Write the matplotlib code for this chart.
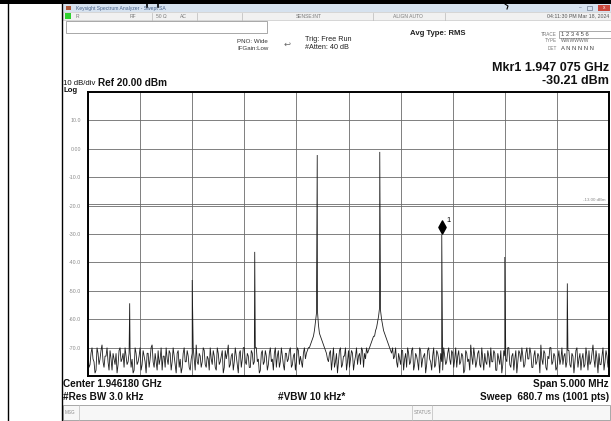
import numpy as np
import matplotlib
matplotlib.use("Agg")
import matplotlib.pyplot as plt
from matplotlib.patches import Rectangle
from matplotlib.path import Path
from matplotlib.transforms import offset_copy

plt.rcParams['font.family'] = ['Liberation Sans', 'DejaVu Sans']

# ---------------- data ----------------
center_ghz = 1.946180
span_mhz = 5.0
ref_dbm = 20.0
db_per_div = 10.0

y_tick_values = [10, 0, -10, -20, -30, -40, -50, -60, -70]
y_tick_labels = ["10.0", "0.00", "-10.0", "-20.0", "-30.0", "-40.0", "-50.0", "-60.0", "-70.0"]

# noise floor samples (even trace points)
noise_even_dbm = [
    -73, -76, -70, -75, -78, -72, -74, -69, -77, -73, -75, -71, -78, -74, -72, -76, -70, -74, -77, -73,
    -75, -71, -74, -78, -72, -75, -70, -76, -73, -79, -72, -74, -69, -77, -75, -71, -74, -78, -73, -70,
    -76, -72, -75, -73, -79, -71, -74, -77, -70, -75, -73, -78, -72, -74, -69, -76, -73, -75, -71, -77,
    -74, -70, -76, -73, -78, -72, -75, -71, -77, -74, -69, -76, -72, -75, -73, -79, -71, -74, -70, -76,
    -73, -77, -72, -75, -70, -74, -78, -71, -75, -73, -76, -70, -74, -72, -77, -71, -75, -73, -78, -72,
    -74, -70, -76, -72, -75, -71, -73, -77, -70, -72, -70, -69, -67, -64, -58, -62, -66, -68, -70, -72,
    -75, -71, -74, -77, -72, -75, -70, -76, -73, -78, -71, -74, -72, -75, -70, -73, -76, -71, -72, -70,
    -71, -69, -67, -66, -63, -59, -57, -62, -65, -67, -69, -71, -70, -73, -75, -72, -76, -71, -74, -77,
    -72, -75, -70, -76, -73, -78, -71, -74, -72, -76, -70, -75, -73, -77, -71, -74, -72, -78, -73, -75,
    -70, -76, -72, -74, -77, -71, -75, -73, -78, -72, -74, -69, -76, -73, -75, -71, -77, -74, -72, -76,
    -73, -70, -75, -72, -78, -74, -71, -76, -73, -75, -70, -77, -72, -74, -79, -71, -75, -73, -76, -70,
    -74, -72, -77, -71, -75, -73, -69, -76, -72, -78, -74, -70, -75, -73, -77, -71, -74, -76, -72, -75,
    -71, -77, -73, -75, -70, -74, -78, -72, -76, -73, -71, -75, -69, -77, -74, -72, -76, -70, -75, -73,
    -72,
]
# noise floor samples (odd trace points, between the even ones)
noise_odd_dbm = [
    -77, -72, -74, -79, -70, -76, -71, -75, -73, -70, -78, -74, -72, -76, -79, -71, -75, -72, -70, -76,
    -72, -77, -79, -70, -76, -73, -78, -71, -75, -72, -77, -70, -75, -72, -78, -76, -70, -73, -77, -74,
    -71, -78, -70, -76, -72, -77, -79, -72, -75, -71, -77, -74, -70, -78, -75, -72, -77, -70, -76, -73,
    -78, -74, -71, -77, -70, -76, -73, -79, -71, -72, -77, -73, -78, -70, -76, -72, -77, -70, -75, -72,
    -77, -71, -76, -70, -75, -79, -72, -76, -71, -78, -72, -75, -78, -70, -73, -77, -70, -76, -72, -75,
    -71, -77, -73, -78, -70, -76, -75, -72, -74, -71, -70, -68, -66, -61, -57, -65, -67, -69, -71, -74,
    -72, -78, -70, -75, -79, -71, -77, -73, -70, -75, -77, -71, -78, -73, -76, -72, -70, -77, -74, -72,
    -70, -68, -66, -64, -61, -56, -60, -64, -66, -68, -70, -72, -74, -70, -77, -74, -71, -78, -72, -70,
    -76, -71, -78, -72, -75, -70, -77, -73, -79, -71, -74, -78, -70, -76, -72, -79, -75, -70, -76, -72,
    -74, -71, -77, -70, -73, -76, -72, -79, -71, -75, -78, -73, -70, -77, -72, -76, -70, -78, -75, -71,
    -77, -75, -71, -78, -72, -76, -79, -71, -74, -70, -76, -73, -78, -71, -75, -72, -70, -77, -72, -74,
    -70, -77, -73, -76, -72, -79, -74, -71, -77, -73, -70, -76, -72, -78, -74, -76, -70, -73, -77, -71,
    -76, -72, -79, -71, -77, -72, -74, -77, -70, -78, -76, -72, -74, -71, -79, -76, -73, -78, -71, -77,
]

# discrete tones: offset from center (MHz) and level (dBm)
peak_offset_mhz = [-2.10, -1.50, -0.90, -0.30, 0.30, 0.895, 1.50, 2.10]
peak_dbm = [-54.4, -46.2, -36.3, -2.2, -1.1, -30.21, -38.1, -47.4]

marker_offset_mhz = 0.895
marker_dbm = -30.21
display_line_dbm = -19.3
display_line_label = "-13.00 dBm"

# ---------------- figure ----------------
W, H = 611, 421
fig = plt.figure(figsize=(W / 100, H / 100), dpi=100)
bg = fig.add_axes([0, 0, 1, 1])
bg.set_xlim(0, W)
bg.set_ylim(H, 0)
bg.axis('off')

# document table borders
bg.add_patch(Rectangle((0, 0), W, 4, color='black', lw=0))
bg.plot([8, 8], [0, H], color='black', lw=1.0)
bg.plot([62, 62], [4, H], color='black', lw=1.0)
for x0 in (147, 158):
    bg.plot([x0, x0], [0, 7], color='black', lw=1.2)
bg.plot([505, 508, 507], [4, 6, 9], color='black', lw=0.8)

# title bar
bg.add_patch(Rectangle((63, 4), W - 63, 8, facecolor='#d6e2ef', edgecolor='none'))
bg.add_patch(Rectangle((66, 6), 5, 4, facecolor='#b0593a', edgecolor='none'))
bg.text(76, 8.2, "Keysight Spectrum Analyzer - Swept SA", fontsize=3.6, color='#46618a', va='center')
bg.add_patch(Rectangle((598, 4.5), 12, 6.5, facecolor='#c9493d', edgecolor='none'))
bg.text(604, 7.8, "x", fontsize=3.5, color='white', va='center', ha='center')
bg.text(580, 7.8, "–", fontsize=3.5, color='#55647a', va='center', ha='center')
bg.add_patch(Rectangle((587, 6), 5, 3.5, facecolor='none', edgecolor='#55647a', lw=0.4))

# status row
bg.add_patch(Rectangle((63, 12), W - 63, 8, facecolor='#f1f1f1', edgecolor='#bdbdbd', lw=0.4))
bg.add_patch(Rectangle((65, 13), 6, 6, facecolor='#2fd12f', edgecolor='none'))
for xs in (152, 197, 242, 373, 445):
    bg.plot([xs, xs], [12.5, 19.5], color='#b9b9b9', lw=0.5)
row_items = [(76, "R"), (130, "RF"), (156, "50 Ω"), (180, "AC"), (296, "SENSE:INT"), (393, "ALIGN AUTO")]
for xs, t in row_items:
    bg.text(xs, 16.2, t, fontsize=3.6, color='#7a7a7a', va='center')
bg.text(609, 16.2, "04:11:30 PM Mar 18, 2024", fontsize=3.8, color='#555', va='center', ha='right')

# input box
bg.add_patch(Rectangle((66, 21), 201, 12, facecolor='white', edgecolor='#9a9a9a', lw=0.6))

# settings text
bg.text(237, 41.5, "PNO: Wide", fontsize=4.4, color='#333', va='center')
bg.text(237, 48.5, "IFGain:Low", fontsize=4.4, color='#333', va='center')
bg.text(284, 44, "↩", fontsize=6, color='#666', va='center', family='DejaVu Sans')
bg.text(305, 39.5, "Trig: Free Run", fontsize=5.2, color='#222', va='center')
bg.text(305, 47.5, "#Atten: 40 dB", fontsize=5.2, color='#222', va='center')
bg.text(410, 33.5, "Avg Type: RMS", fontsize=5.6, color='#222', va='center', fontweight='bold')

bg.text(557, 34, "TRACE", fontsize=3.3, color='#777', va='center', ha='right')
bg.text(557, 41, "TYPE", fontsize=3.3, color='#777', va='center', ha='right')
bg.text(557, 48, "DET", fontsize=3.3, color='#777', va='center', ha='right')
bg.add_patch(Rectangle((559, 30.5), 52, 7, facecolor='white', edgecolor='#888', lw=0.5))
bg.text(561, 34, "1 2 3 4 5 6", fontsize=4.2, color='#444', va='center')
bg.text(561, 41, "WWWWWW", fontsize=3.6, color='#666', va='center')
bg.text(561, 48, "A N N N N N", fontsize=4.2, color='#444', va='center')

bg.text(609, 68, "Mkr1 1.947 075 GHz", fontsize=9, color='#111', va='center', ha='right', fontweight='bold')
bg.text(609, 81, "-30.21 dBm", fontsize=9, color='#111', va='center', ha='right', fontweight='bold')

bg.text(63, 83.5, "10 dB/div", fontsize=5.6, color='#111', va='center')
bg.text(63, 90, "Log", fontsize=5.6, color='#111', va='center', fontweight='bold')
bg.text(98, 83.5, "Ref 20.00 dBm", fontsize=7.2, color='#111', va='center', fontweight='bold')

# footer
bg.text(63, 384, "Center 1.946180 GHz", fontsize=7.2, color='#111', va='center', fontweight='bold')
bg.text(609, 384, "Span 5.000 MHz", fontsize=7.2, color='#111', va='center', ha='right', fontweight='bold')
bg.text(63, 396.5, "#Res BW 3.0 kHz", fontsize=7.2, color='#111', va='center', fontweight='bold')
bg.text(278, 396.5, "#VBW 10 kHz*", fontsize=7.2, color='#111', va='center', fontweight='bold')
bg.text(609, 396.5, "Sweep  680.7 ms (1001 pts)", fontsize=7.2, color='#111', va='center', ha='right', fontweight='bold')

bg.add_patch(Rectangle((63, 405), W - 64, 15, facecolor='#f7f7f7', edgecolor='#9a9a9a', lw=0.6))
bg.plot([79, 79], [405, 420], color='#bbbbbb', lw=0.5)
bg.plot([412, 412], [405, 420], color='#bbbbbb', lw=0.5)
bg.plot([432, 432], [405, 420], color='#bbbbbb', lw=0.5)
bg.text(65, 412.5, "MSG", fontsize=3.3, color='#888', va='center')
bg.text(414, 412.5, "STATUS", fontsize=3.3, color='#888', va='center')

# ---------------- spectrum plot ----------------
px_l, px_r, px_t, px_b = 88, 609, 92, 376
ax = fig.add_axes([px_l / W, 1 - px_b / H, (px_r - px_l) / W, (px_b - px_t) / H])
ax.set_facecolor('white')
half = span_mhz / 2
ax.set_xlim(-half, half)
ax.set_ylim(ref_dbm - 10 * db_per_div, ref_dbm)

ax.set_xticks(np.arange(-half, half + 0.001, span_mhz / 10))
ax.set_xticklabels([])
ax.set_yticks(y_tick_values)
ax.set_yticklabels(y_tick_labels)
ax.tick_params(axis='both', length=0)
ax.tick_params(axis='y', labelsize=3.8, labelcolor='#8a8a8a', pad=5)
ax.grid(True, color='#6a6a6a', lw=0.6)
ax.set_axisbelow(True)
for s in ax.spines.values():
    s.set_color('black')
    s.set_linewidth(1.4)

ax.axhline(display_line_dbm, color='#6a6a6a', lw=0.6)
ax.text(half - 0.03, display_line_dbm + 0.6, display_line_label, fontsize=3.2,
        color='#888', ha='right', va='bottom')

# interleave the two noise sample sets into one trace
n_pts = len(noise_even_dbm) + len(noise_odd_dbm)
noise = np.empty(n_pts)
noise[0::2] = noise_even_dbm
noise[1::2] = noise_odd_dbm
noise_f = np.linspace(-half, half, n_pts)

f_all = np.concatenate([noise_f, np.array(peak_offset_mhz)])
l_all = np.concatenate([noise, np.array(peak_dbm)])
order = np.argsort(f_all, kind='stable')
ax.plot(f_all[order], l_all[order], color='#1e1e1e', lw=0.6, solid_joinstyle='miter')

diamond = Path([(0, 1), (0.55, 0), (0, -1), (-0.55, 0), (0, 1)],
               [Path.MOVETO, Path.LINETO, Path.LINETO, Path.LINETO, Path.CLOSEPOLY])
mk_tr = offset_copy(ax.transData, fig=fig, x=0, y=7.5, units='dots')
ax.plot([marker_offset_mhz], [marker_dbm], marker=diamond, markersize=9.5,
        color='black', transform=mk_tr, clip_on=False)
lbl_tr = offset_copy(ax.transData, fig=fig, x=5, y=14, units='dots')
ax.text(marker_offset_mhz, marker_dbm, "1", fontsize=5.5, color='black',
        transform=lbl_tr, va='center', ha='left')

fig.savefig("out.png", dpi=100)
